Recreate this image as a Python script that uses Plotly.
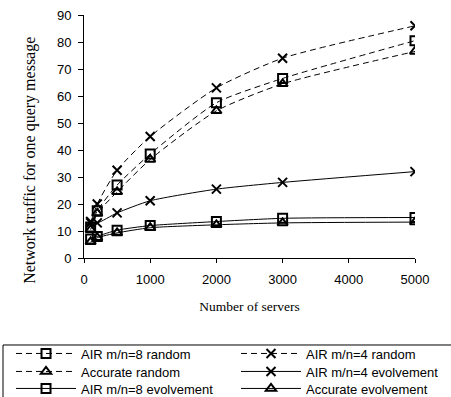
import plotly.graph_objects as go

servers = [100, 200, 500, 1000, 2000, 3000, 5000]

air8_random = [11.5, 17.5, 27.0, 38.5, 57.5, 66.5, 80.5]
air4_random = [13.0, 20.0, 32.5, 45.0, 63.0, 74.0, 86.0]
acc_random = [10.5, 16.5, 24.5, 36.5, 54.5, 64.5, 76.5]
air4_evo = [13.5, 13.0, 16.7, 21.2, 25.5, 28.0, 32.0]
air8_evo = [7.0, 8.0, 10.3, 12.0, 13.5, 14.7, 15.0]
acc_evo = [6.0, 7.5, 9.3, 11.2, 12.3, 13.0, 13.3]

# name, values, marker symbol, dash, legend column, legend row
series = [
    ("AIR m/n=8 random", air8_random, "square-open", "dash", 0, 0),
    ("AIR m/n=4 random", air4_random, "x-thin-open", "dash", 1, 0),
    ("Accurate random", acc_random, "triangle-up-open", "dash", 0, 1),
    ("AIR m/n=4 evolvement", air4_evo, "x-thin-open", "solid", 1, 1),
    ("AIR m/n=8 evolvement", air8_evo, "square-open", "solid", 0, 2),
    ("Accurate evolvement", acc_evo, "triangle-up-open", "solid", 1, 2),
]

col_x = [-0.2205, 0.4592]
row_y = [-0.3313, -0.4053, -0.4753]

legend_font = dict(size=13, family="Liberation Sans, Arial, sans-serif", color="black")

fig = go.Figure()
legend_layout = {}
for i, (name, vals, sym, dash, col, row) in enumerate(series):
    key = "legend" if i == 0 else f"legend{i + 1}"
    fig.add_trace(go.Scatter(
        x=servers, y=vals, name=name, mode="lines+markers", legend=key,
        line=dict(color="black", width=1, dash="6px,4px" if dash == "dash" else "solid",
                  shape="spline", smoothing=0.6),
        marker=dict(symbol=sym, size=9, color="black", line=dict(color="black", width=2)),
    ))
    legend_layout[key] = dict(
        orientation="v", yanchor="top", xanchor="left", x=col_x[col], y=row_y[row],
        bgcolor="rgba(0,0,0,0)", borderwidth=0, font=legend_font,
        itemwidth=60, tracegroupgap=0,
    )

fig.update_layout(
    width=451, height=397,
    margin=dict(l=84, r=36, t=15, b=139, autoexpand=False),
    paper_bgcolor="white", plot_bgcolor="white",
    font=dict(family="Liberation Sans, Arial, sans-serif", size=13, color="black"),
    showlegend=True,
    xaxis=dict(
        range=[0, 5000], tickvals=[0, 1000, 2000, 3000, 4000, 5000],
        showline=True, linecolor="black", linewidth=1,
        ticks="outside", ticklen=4, tickcolor="black", ticklabelstandoff=5,
        showgrid=False, zeroline=False,
        title=dict(text="Number of servers",
                   font=dict(family="Liberation Serif, Times New Roman, serif", size=13.5),
                   standoff=15),
    ),
    yaxis=dict(
        range=[0, 90], tickvals=[0, 10, 20, 30, 40, 50, 60, 70, 80, 90],
        showline=True, linecolor="black", linewidth=1,
        ticks="outside", ticklen=5, tickcolor="black", ticklabelstandoff=4,
        showgrid=False, zeroline=False,
    ),
    annotations=[dict(
        text="Network traffic for one query message", textangle=-90,
        xref="paper", yref="paper", x=-0.163, y=0.40, xanchor="center", yanchor="middle",
        showarrow=False, font=dict(family="Liberation Serif, Times New Roman, serif", size=16),
    )],
    shapes=[dict(
        type="rect", xref="paper", yref="paper", x0=-0.2447, x1=1.12, y0=-0.358, y1=-0.62,
        line=dict(color="black", width=1), fillcolor="rgba(0,0,0,0)", layer="below",
    )],
    **legend_layout,
)

fig.write_html("out.html", post_script="document.body.style.margin='0';",
               config={"displayModeBar": False})
